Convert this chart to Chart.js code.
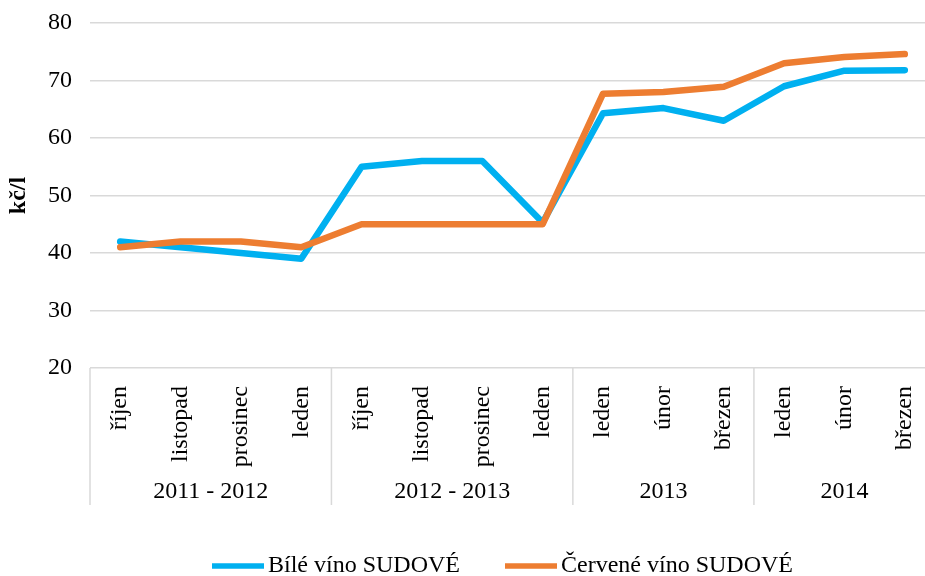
<!DOCTYPE html>
<html>
<head>
<meta charset="utf-8">
<script src="https://cdn.jsdelivr.net/npm/chart.js@4/dist/chart.umd.min.js"></script>
<style>
  html, body { margin: 0; padding: 0; background: #fff; overflow: hidden; }
  #wrap { width: 935px; height: 576px; }
</style>
</head>
<body>
<div id="wrap"><canvas id="chart" width="935" height="576"></canvas></div>
<script>
// months (lower axis row)
const categories = ['říjen', 'listopad', 'prosinec', 'leden', 'říjen', 'listopad', 'prosinec', 'leden',
  'leden', 'únor', 'březen', 'leden', 'únor', 'březen'];
// season groups (upper axis row) and how many months each covers
const groups = ['2011 - 2012', '2012 - 2013', '2013', '2014'];
const groupSizes = [4, 4, 3, 3];

const whiteWine = [42, 41, 40, 39, 55, 56, 56, 45.3, 64.3, 65.2, 63, 69, 71.7, 71.8];
const redWine = [41, 42, 42, 41, 45, 45, 45, 45, 67.7, 68, 68.9, 73, 74.1, 74.6];

const yTicks = [20, 30, 40, 50, 60, 70, 80];

const FONT = '"Liberation Serif", "Times New Roman", serif';
const FS = 24;
const GRID = '#d9d9d9';

// draws the grouped axis row and the legend
const groupAxis = {
  id: 'groupAxis',
  afterDraw(chart) {
    const { ctx, chartArea } = chart;
    const x = chart.scales.x;
    const bottom = 505;
    ctx.save();

    ctx.strokeStyle = GRID;
    ctx.lineWidth = 1.5;
    const bounds = [chartArea.left];
    let idx = 0;
    groupSizes.forEach(n => {
      idx += n;
      const a = x.getPixelForValue(idx - 1);
      const b = idx < categories.length ? x.getPixelForValue(idx) : a + (a - x.getPixelForValue(idx - 2));
      bounds.push((a + b) / 2);
    });
    bounds.forEach(bx => {
      ctx.beginPath();
      ctx.moveTo(bx, chartArea.bottom);
      ctx.lineTo(bx, bottom);
      ctx.stroke();
    });

    ctx.fillStyle = '#000';
    ctx.font = FS + 'px ' + FONT;
    ctx.textAlign = 'center';
    ctx.textBaseline = 'middle';
    groups.forEach((g, i) => {
      ctx.fillText(g, (bounds[i] + bounds[i + 1]) / 2, 492);
    });

    // legend
    const ly = 566;
    let lx = 212;
    ctx.textAlign = 'left';
    chart.data.datasets.forEach(ds => {
      ctx.strokeStyle = ds.borderColor;
      ctx.lineWidth = 5.5;
      ctx.beginPath();
      ctx.moveTo(lx, ly);
      ctx.lineTo(lx + 52, ly);
      ctx.stroke();
      ctx.fillText(ds.label, lx + 56, ly);
      lx += 56 + ctx.measureText(ds.label).width + 45;
    });
    ctx.restore();
  }
};

new Chart(document.getElementById('chart'), {
  type: 'line',
  data: {
    labels: categories,
    datasets: [
      {
        label: 'Bílé víno SUDOVÉ',
        data: whiteWine,
        borderColor: '#00b0f0',
        backgroundColor: '#00b0f0',
        borderWidth: 6.5,
        pointRadius: 0,
        borderCapStyle: 'round',
        borderJoinStyle: 'round',
        tension: 0,
        order: 1
      },
      {
        label: 'Červené víno SUDOVÉ',
        data: redWine,
        borderColor: '#ed7d31',
        backgroundColor: '#ed7d31',
        borderWidth: 6.5,
        pointRadius: 0,
        borderCapStyle: 'round',
        borderJoinStyle: 'round',
        tension: 0,
        order: 0
      }
    ]
  },
  options: {
    responsive: false,
    animation: false,
    layout: { padding: { top: 23, right: 0, bottom: 0, left: 0 } },
    plugins: {
      legend: { display: false },
      tooltip: { enabled: false }
    },
    scales: {
      x: {
        offset: true,
        grid: { display: false },
        border: { display: false },
        ticks: {
          autoSkip: false,
          minRotation: 90,
          maxRotation: 90,
          padding: 10,
          color: '#000',
          font: { family: FONT, size: FS }
        },
        afterFit(scale) {
          scale.height = 208;
          scale.paddingLeft = 0;
          scale.paddingRight = 0;
        }
      },
      y: {
        min: 20,
        max: 80,
        afterBuildTicks(scale) { scale.ticks = yTicks.map(v => ({ value: v })); },
        grid: { color: GRID, lineWidth: 1.5, drawTicks: false },
        border: { display: false },
        ticks: {
          padding: 18,
          color: '#000',
          font: { family: FONT, size: FS }
        },
        title: {
          display: true,
          text: 'kč/l',
          color: '#000',
          font: { family: FONT, size: FS, weight: 'bold' },
          padding: { top: 4, bottom: 0 }
        },
        afterFit(scale) {
          scale.width = 90;
          scale.paddingTop = 0;
          scale.paddingBottom = 0;
        }
      }
    }
  },
  plugins: [groupAxis]
});
</script>
</body>
</html>
